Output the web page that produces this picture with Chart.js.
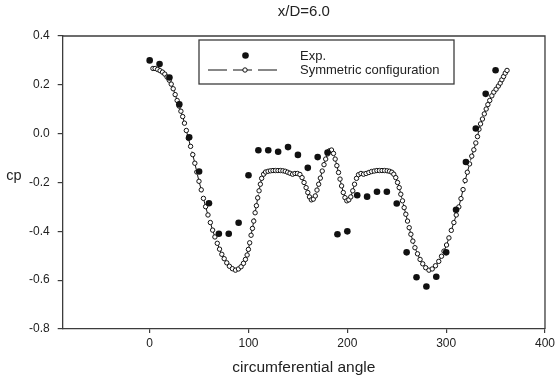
<!DOCTYPE html>
<html>
<head>
<meta charset="utf-8">
<script src="https://cdn.jsdelivr.net/npm/chart.js@4/dist/chart.umd.min.js"></script>
<style>
  html, body { margin: 0; padding: 0; background: #fff; }
  #wrap { width: 558px; height: 381px; }
</style>
</head>
<body>
<div id="wrap"><canvas id="chart1" width="558" height="381"></canvas></div>
<script>
//--------------------------data------------------------------------------------
var chartTitle = "x/D=6.0";
var xTitle = "circumferential angle";
var yTitle = "cp";
var seriesNames = ["Exp.", "Symmetric configuration"];

// experiment, one point every 10 degrees
var expAngle = [0, 10, 20, 30, 40, 50, 60, 70, 80, 90, 100, 110, 120, 130, 140, 150, 160, 170,
                180, 190, 200, 210, 220, 230, 240, 250, 260, 270, 280, 290, 300, 310, 320, 330, 340, 350];
var expCp = [0.300, 0.285, 0.230, 0.120, -0.015, -0.155, -0.285, -0.410, -0.410, -0.365, -0.170, -0.068,
             -0.068, -0.074, -0.055, -0.087, -0.140, -0.096, -0.077, -0.412, -0.400, -0.252, -0.258, -0.238,
             -0.238, -0.286, -0.486, -0.588, -0.626, -0.586, -0.486, -0.312, -0.116, 0.021, 0.163, 0.260];

// computation (open circles)
var symAngle = [3.3, 5.5, 8, 10.5, 13, 15.3, 17.6, 19.8, 21.8, 23.8, 25.8, 27.8, 29.8, 31.6, 33.4, 35.2,
  37.1, 39.1, 41.4, 43.6, 45.7, 47.7, 49.9, 52.2, 54.4, 56.6, 59, 61.4, 63.7, 66, 68.4, 70.7, 73, 75.4,
  78, 80.7, 83.7, 86.8, 89.8, 92.5, 94.9, 96.9, 98.6, 99.9, 101.2, 102.6, 104, 105.3, 106.7, 108, 109.3,
  110.7, 112, 113.3, 115.3, 117.3, 119.8, 122.3, 124.8, 127.3, 129.8, 132.3, 134.8, 137.2, 139.6, 142,
  144.6, 147, 149.5, 152, 154.2, 156.2, 158.3, 160, 161.7, 163.6, 165.6, 167.6, 169.3, 171, 172.7, 174.6,
  176.4, 178.1, 180, 182, 184, 186, 187.7, 189.4, 191.1, 192.6, 194.2, 195.9, 197.6, 199.5, 201.5, 203.5,
  205.5, 207.3, 209.3, 211.3, 213.8, 216.4, 219, 221.8, 224.5, 227.2, 229.9, 232.5, 235.1, 237.7, 240.3,
  242.7, 245, 247, 249, 250.8, 252.5, 254.1, 255.8, 257.5, 259.2, 260.9, 262.6, 264.3, 266.3, 268.4, 271,
  273.6, 276.3, 279.3, 282.6, 285.9, 289.2, 292.5, 295.3, 297.8, 300.4, 302.8, 305.2, 307.8, 310.2, 312.8,
  315, 317.1, 319.2, 321.4, 323.7, 325.9, 328, 330, 331.7, 333.2, 334.8, 336.7, 338.6, 340.5, 342.2, 344.1,
  346.2, 348.2, 350.5, 352.8, 354.7, 356.4, 358.1, 359.8, 361.6];
var symCp = [0.267, 0.267, 0.263, 0.258, 0.252, 0.244, 0.232, 0.219, 0.203, 0.184, 0.160, 0.136, 0.113,
  0.092, 0.070, 0.043, 0.013, -0.019, -0.052, -0.086, -0.121, -0.157, -0.195, -0.230, -0.265, -0.299,
  -0.333, -0.364, -0.395, -0.423, -0.449, -0.473, -0.494, -0.512, -0.529, -0.543, -0.553, -0.559, -0.554,
  -0.545, -0.531, -0.515, -0.497, -0.474, -0.447, -0.416, -0.388, -0.358, -0.324, -0.295, -0.263, -0.234,
  -0.207, -0.183, -0.166, -0.157, -0.154, -0.152, -0.151, -0.151, -0.151, -0.151, -0.152, -0.154, -0.158,
  -0.162, -0.166, -0.163, -0.163, -0.167, -0.180, -0.200, -0.221, -0.241, -0.259, -0.271, -0.268, -0.255,
  -0.231, -0.207, -0.182, -0.153, -0.127, -0.104, -0.083, -0.070, -0.067, -0.081, -0.104, -0.131, -0.159,
  -0.186, -0.214, -0.241, -0.262, -0.275, -0.271, -0.259, -0.234, -0.207, -0.183, -0.168, -0.163, -0.166,
  -0.163, -0.159, -0.155, -0.153, -0.151, -0.151, -0.151, -0.151, -0.152, -0.154, -0.158, -0.166, -0.180,
  -0.200, -0.221, -0.248, -0.275, -0.303, -0.330, -0.358, -0.385, -0.412, -0.440, -0.467, -0.492, -0.515,
  -0.533, -0.549, -0.559, -0.554, -0.541, -0.523, -0.502, -0.481, -0.456, -0.427, -0.396, -0.364, -0.333,
  -0.300, -0.266, -0.229, -0.192, -0.158, -0.124, -0.092, -0.066, -0.038, -0.012, 0.018, 0.040, 0.060,
  0.081, 0.101, 0.119, 0.136, 0.155, 0.170, 0.182, 0.195, 0.207, 0.221, 0.234, 0.248, 0.259];

var xMin = -88, xMax = 400;
var yMin = -0.8, yMax = 0.4, yStep = 0.2;
var xTicks = [0, 100, 200, 300, 400];

//--------------------------chart script----------------------------------------
var fontFam = "'Liberation Sans', Arial, sans-serif";
var ink = "#111";
var axisCol = "#3c3c3c";

function pairs(xs, ys) {
  return xs.map(function (x, i) { return { x: x, y: ys[i] }; });
}

// top + right edges of the plot frame
var framePlugin = {
  id: "frame",
  beforeDatasetsDraw: function (chart) {
    var a = chart.chartArea, ctx = chart.ctx;
    ctx.save();
    ctx.strokeStyle = axisCol;
    ctx.lineWidth = 1.3;
    ctx.beginPath();
    ctx.moveTo(a.left, a.top);
    ctx.lineTo(a.right, a.top);
    ctx.lineTo(a.right, a.bottom);
    ctx.stroke();
    ctx.restore();
  }
};

// boxed legend inside the plot + the horizontal "cp" label
var boxLegend = {
  id: "boxLegend",
  afterDatasetsDraw: function (chart) {
    var ctx = chart.ctx;
    var ds = chart.data.datasets;
    var bx = 199, by = 40, bw = 255, bh = 44;
    ctx.save();
    ctx.fillStyle = "#fff";
    ctx.fillRect(bx, by, bw, bh);
    ctx.strokeStyle = axisCol;
    ctx.lineWidth = 1.3;
    ctx.strokeRect(bx, by, bw, bh);

    // Exp. marker
    ctx.fillStyle = ds[0].pointBackgroundColor;
    ctx.beginPath();
    ctx.arc(245.5, 55.5, ds[0].pointRadius, 0, Math.PI * 2);
    ctx.fill();

    // sym line sample
    ctx.strokeStyle = ds[1].borderColor;
    ctx.lineWidth = ds[1].borderWidth;
    ctx.setLineDash([19, 6]);
    ctx.beginPath();
    ctx.moveTo(208, 70);
    ctx.lineTo(278, 70);
    ctx.stroke();
    ctx.setLineDash([]);
    ctx.fillStyle = ds[1].pointBackgroundColor;
    ctx.strokeStyle = ds[1].pointBorderColor;
    ctx.lineWidth = ds[1].pointBorderWidth;
    ctx.beginPath();
    ctx.arc(245, 70, ds[1].pointRadius, 0, Math.PI * 2);
    ctx.fill();
    ctx.stroke();

    ctx.fillStyle = "#222";
    ctx.font = "13px " + fontFam;
    ctx.textAlign = "left";
    ctx.textBaseline = "middle";
    ctx.fillText(ds[0].label, 300, 56);
    ctx.fillText(ds[1].label, 300, 70);

    ctx.font = "14.5px " + fontFam;
    ctx.textAlign = "center";
    ctx.fillText(yTitle, 14, 176);
    ctx.restore();
  }
};

var ctxEl = document.getElementById("chart1").getContext("2d");
var myChart = new Chart(ctxEl, {
  type: "scatter",
  data: {
    datasets: [{
      label: seriesNames[0],
      data: pairs(expAngle, expCp),
      showLine: false,
      pointRadius: 3.3,
      pointBackgroundColor: ink,
      pointBorderColor: ink,
      pointBorderWidth: 0
    }, {
      label: seriesNames[1],
      data: pairs(symAngle, symCp),
      showLine: true,
      borderColor: ink,
      borderWidth: 1,
      borderDash: [18, 6],
      pointRadius: 2.2,
      pointBackgroundColor: "#fff",
      pointBorderColor: ink,
      pointBorderWidth: 1
    }]
  },
  options: {
    responsive: false,
    animation: false,
    layout: { padding: { left: 0, right: 9, top: 0, bottom: 0 } },
    plugins: {
      legend: { display: false },
      tooltip: { enabled: false },
      title: {
        display: true,
        text: chartTitle,
        fullSize: false,
        color: "#222",
        font: { family: fontFam, size: 15, weight: "normal" },
        padding: { top: 3, bottom: 15 }
      }
    },
    scales: {
      x: {
        type: "linear",
        min: xMin,
        max: xMax,
        afterFit: function (s) { s.height = 52; },
        afterBuildTicks: function (s) {
          s.ticks = xTicks.map(function (v) { return { value: v }; });
        },
        grid: { display: true, drawOnChartArea: false, drawTicks: true, tickLength: 4, color: axisCol, lineWidth: 1.2 },
        border: { display: true, color: axisCol, width: 1.3 },
        ticks: {
          color: "#222",
          padding: 3,
          maxRotation: 0,
          font: { family: fontFam, size: 12 },
          callback: function (v) { return String(v); }
        },
        title: {
          display: true,
          text: xTitle,
          color: "#222",
          font: { family: fontFam, size: 15.5 },
          padding: { top: 0, bottom: 4 }
        }
      },
      y: {
        type: "linear",
        min: yMin,
        max: yMax,
        afterFit: function (s) { s.width = 62.7; },
        grid: { display: true, drawOnChartArea: false, drawTicks: true, tickLength: 5, color: axisCol, lineWidth: 1.2 },
        border: { display: true, color: axisCol, width: 1.3 },
        ticks: {
          stepSize: yStep,
          color: "#222",
          padding: 8,
          font: { family: fontFam, size: 12 },
          callback: function (v) { return Number(v).toFixed(1); }
        },
        title: { display: false }
      }
    }
  },
  plugins: [framePlugin, boxLegend]
});
</script>
</body>
</html>
